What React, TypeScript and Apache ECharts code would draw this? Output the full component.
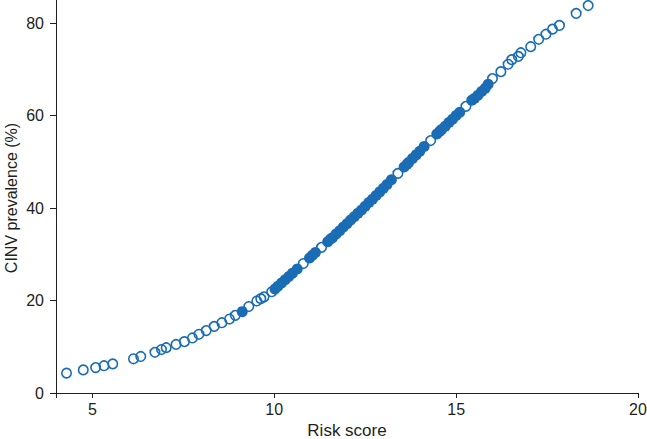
import React, { useEffect, useRef } from "react";
import * as echarts from "echarts";

// Hollow markers (risk score, CINV prevalence %)
const riskOpen: number[] = [
  4.29, 4.75, 5.09, 5.32, 5.56, 6.13, 6.33, 6.72, 6.9, 7.03, 7.3, 7.53, 7.75, 7.93, 8.13, 8.35, 8.56, 8.77, 8.93,
  9.3, 9.52, 9.63, 9.72, 9.93,
  10.8, 11.3, 13.4, 14.3, 15.27,
  16.0, 16.23, 16.43, 16.53, 16.71, 16.78, 17.05, 17.27, 17.47, 17.65, 17.84, 18.3, 18.63,
];
const prevOpen: number[] = [
  4.3, 5.0, 5.5, 5.9, 6.3, 7.4, 7.9, 8.8, 9.4, 9.8, 10.5, 11.1, 11.9, 12.7, 13.5, 14.4, 15.2, 16.0, 16.8,
  18.7, 19.9, 20.4, 20.8, 21.9,
  28.0, 31.5, 47.5, 54.6, 62.0,
  68.0, 69.5, 71.1, 72.1, 72.8, 73.6, 74.9, 76.5, 77.6, 78.7, 79.5, 82.1, 83.8,
];

// Filled markers
const riskFilled: number[] = [
  9.12,
  10.02, 10.1, 10.2, 10.3, 10.4, 10.5, 10.63, 10.97, 11.05, 11.13,
  11.47, 11.55, 11.6, 11.7, 11.8, 11.9, 12.0, 12.1, 12.2, 12.3, 12.4, 12.5, 12.6, 12.7, 12.8, 12.9, 13.0, 13.1, 13.22,
  13.57, 13.65, 13.7, 13.8, 13.9, 14.0, 14.12,
  14.47, 14.55, 14.6, 14.7, 14.8, 14.9, 15.0, 15.1,
  15.43, 15.5, 15.6, 15.7, 15.8, 15.88,
];
const prevFilled: number[] = [
  17.6,
  22.5, 23.1, 23.8, 24.5, 25.2, 25.9, 26.8, 29.2, 29.8, 30.4,
  32.7, 33.3, 33.6, 34.4, 35.1, 35.9, 36.6, 37.4, 38.1, 38.9, 39.6, 40.4, 41.2, 41.9, 42.7, 43.5, 44.3, 45.1, 46.1,
  48.9, 49.5, 49.9, 50.7, 51.5, 52.3, 53.3,
  56.0, 56.6, 57.0, 57.7, 58.5, 59.2, 60.0, 60.7,
  63.3, 63.7, 64.4, 65.2, 65.9, 66.8,
];

const xLabels = [5, 10, 15, 20];
const xTicks = [4, 5, 10, 15, 20];
const yLabels = [0, 20, 40, 60, 80];
const yTitle = "CINV prevalence (%)";

const BLUE = "#1a6db5";
const INK = "#231f20";
const FONT = "Liberation Sans, Arial, Helvetica, sans-serif";

export default function App() {
  const ref = useRef<HTMLDivElement>(null);
  useEffect(() => {
    if (!ref.current) return;
    const chart = echarts.init(ref.current, undefined, { renderer: "svg" });
    const openData = riskOpen.map((x, i) => [x, prevOpen[i]]);
    const filledData = riskFilled.map((x, i) => [x, prevFilled[i]]);
    chart.setOption({
      animation: false,
      grid: { left: 56, right: 9, top: 0, bottom: 46, containLabel: false, outerBoundsMode: "none" },
      graphic: [
        {
          type: "text",
          x: 11,
          y: 198,
          rotation: Math.PI / 2,
          style: {
            text: yTitle,
            fill: INK,
            font: `16px ${FONT}`,
            textAlign: "center",
            textVerticalAlign: "middle",
          },
        },
      ],
      xAxis: {
        type: "value",
        min: 4,
        max: 20,
        name: "Risk score",
        nameLocation: "middle",
        nameGap: 28,
        nameTextStyle: { color: INK, fontSize: 17, fontFamily: FONT },
        splitLine: { show: false },
        axisLine: { show: true, lineStyle: { color: INK, width: 1 } },
        axisTick: { show: true, length: 5, lineStyle: { color: INK }, customValues: xTicks },
        axisLabel: { color: INK, fontSize: 16, fontFamily: FONT, margin: 8, customValues: xLabels },
      },
      yAxis: {
        type: "value",
        min: 0,
        max: 85,
        splitLine: { show: false },
        axisLine: { show: true, lineStyle: { color: INK, width: 1 } },
        axisTick: { show: true, length: 6, lineStyle: { color: INK }, customValues: yLabels },
        axisLabel: { color: INK, fontSize: 16, fontFamily: FONT, margin: 12, customValues: yLabels },
      },
      series: [
        {
          type: "scatter",
          data: filledData,
          symbol: "circle",
          symbolSize: 11,
          itemStyle: { color: BLUE, borderColor: BLUE, borderWidth: 0, opacity: 1 },
          z: 2,
        },
        {
          type: "scatter",
          data: openData,
          symbol: "circle",
          symbolSize: 9.5,
          itemStyle: { color: "rgba(255,255,255,0)", borderColor: BLUE, borderWidth: 1.6, opacity: 1 },
          z: 3,
        },
      ],
    });
    return () => chart.dispose();
  }, []);
  return (
    <div style={{ position: "fixed", left: 0, top: 0, width: 647, height: 439, overflow: "hidden", background: "#fff" }}>
      <div ref={ref} style={{ width: 647, height: 439 }} />
    </div>
  );
}
